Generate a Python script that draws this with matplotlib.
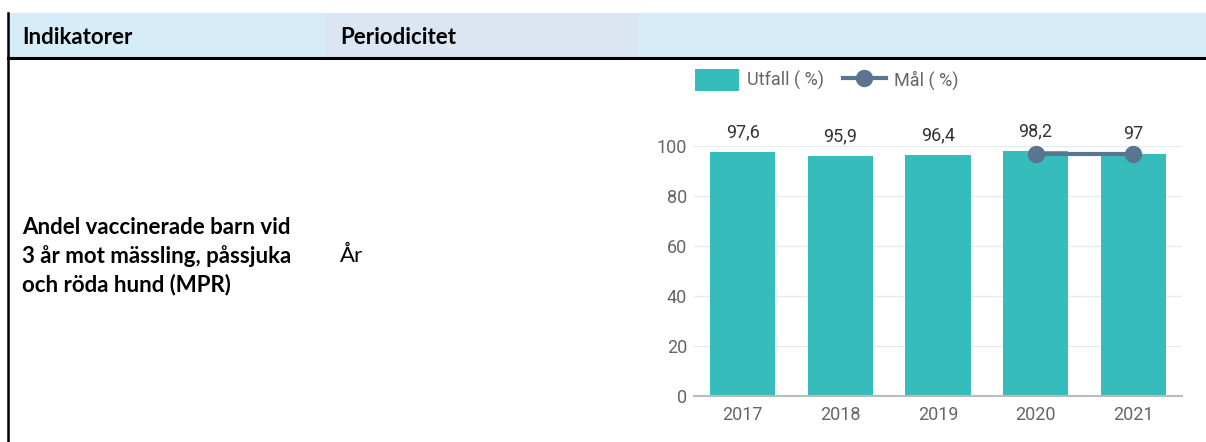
import numpy as np
import matplotlib
matplotlib.use("Agg")
from matplotlib import pyplot as plt
from matplotlib.patches import Rectangle
from matplotlib.lines import Line2D

years = ["2017", "2018", "2019", "2020", "2021"]
utfall = [97.6, 95.9, 96.4, 98.2, 97]
mal = [None, None, None, 97, 97]
value_labels = ["97,6", "95,9", "96,4", "98,2", "97"]

header_cols = ["Indikatorer", "Periodicitet", ""]
indicator = "Andel vaccinerade barn vid\n3 år mot mässling, påssjuka\noch röda hund (MPR)"
period = "År"

W, H = 1206, 442
fig = plt.figure(figsize=(W / 100, H / 100), dpi=100)


def fx(px):
    return px / W


def fy(py):
    return 1 - py / H


# table header backgrounds
col_edges = [8, 325, 637, W]
col_colors = ["#d6ecf8", "#dce6f2", "#d6ecf8"]
for i in range(3):
    fig.patches.append(Rectangle((fx(col_edges[i]), fy(58)), fx(col_edges[i + 1] - col_edges[i]),
                                 fy(13) - fy(58), transform=fig.transFigure,
                                 facecolor=col_colors[i], edgecolor="none", zorder=0))
fig.add_artist(Line2D([fx(8), 1], [fy(58), fy(58)], color="black", lw=2.2, transform=fig.transFigure))
fig.add_artist(Line2D([fx(8), fx(8)], [fy(13), 0], color="black", lw=1.8, transform=fig.transFigure))

tfont = "Lato"
tsize = 16
fig.text(fx(22), fy(37), header_cols[0], fontsize=tsize, fontweight="bold", family=tfont, va="center")
fig.text(fx(340), fy(37), header_cols[1], fontsize=tsize, fontweight="bold", family=tfont, va="center")
fig.text(fx(22), fy(256), indicator, fontsize=tsize, fontweight="bold", family=tfont, va="center",
         linespacing=1.4)
fig.text(fx(340), fy(256), period, fontsize=tsize, family=tfont, va="center")

# chart
ax = fig.add_axes([fx(694), fy(396), fx(1182 - 694), fy(146) - fy(396)])
x = np.arange(len(years))
bar_color = "#37bcbc"
line_color = "#5a7590"
bars = ax.bar(x, utfall, width=0.667, color=bar_color, zorder=2, clip_on=False, label="Utfall ( %)")
mx = [i for i, v in enumerate(mal) if v is not None]
my = [v for v in mal if v is not None]
ln, = ax.plot(mx, my, color=line_color, lw=3, marker="o", markersize=11.5, zorder=3, clip_on=False,
              label="Mål ( %)")

for xi, v, lab in zip(x, utfall, value_labels):
    ax.annotate(lab, (xi, v), xytext=(0, 14), textcoords="offset points", ha="center", va="center",
                fontsize=13, family="Roboto", color="#333333")

ax.set_xlim(-0.5, len(years) - 0.5)
ax.set_ylim(0, 100)
ax.set_yticks(np.arange(0, 101, 20))
ax.set_xticks(x, years)
ax.grid(axis="y", color="#e6ebf1", lw=1, zorder=0)
for s in ["top", "right", "left"]:
    ax.spines[s].set_visible(False)
ax.spines["bottom"].set_color("#bbbbbb")
ax.spines["bottom"].set_linewidth(1.5)
ax.tick_params(axis="y", length=0, pad=5, labelsize=13, labelcolor="#666666")
ax.tick_params(axis="x", length=0, pad=7, labelsize=13, labelcolor="#666666")
for t in ax.get_xticklabels() + ax.get_yticklabels():
    t.set_family("Roboto")

leg = fig.legend(handles=[bars, ln], loc="center left", bbox_to_anchor=(fx(679), fy(80)), ncol=2,
                 frameon=False, handleheight=1.45, handlelength=2.4, handletextpad=0.45, columnspacing=1.05,
                 prop={"family": "Roboto", "size": 13})
for t in leg.get_texts():
    t.set_color("#666666")

fig.savefig("out.png", dpi=100)
